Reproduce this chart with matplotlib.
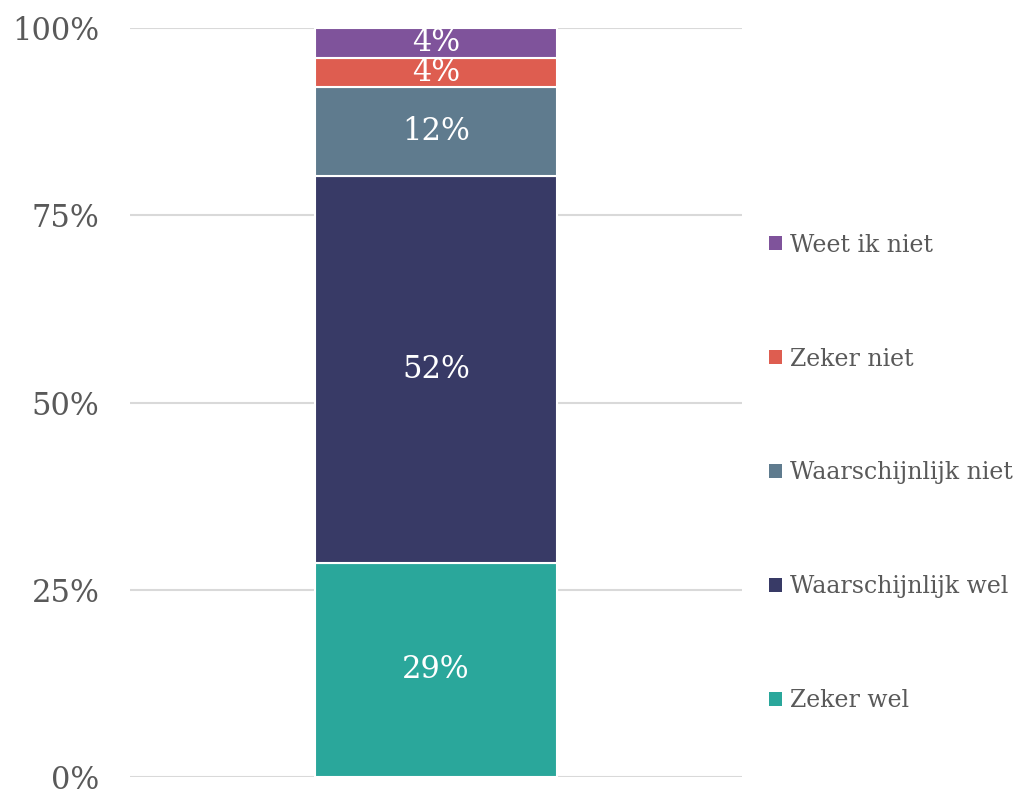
import matplotlib
matplotlib.use("Agg")
import matplotlib.pyplot as plt
from matplotlib.patches import Patch

categories = ["Zeker wel", "Waarschijnlijk wel", "Waarschijnlijk niet", "Zeker niet", "Weet ik niet"]
values = [28.6, 51.6, 11.9, 3.9, 4.0]
colors = ["#2aa79b", "#383a66", "#5f7b8e", "#de5d50", "#7f539b"]
yticks = [0, 25, 50, 75, 100]
ytick_labels = ["0%", "25%", "50%", "75%", "100%"]

plt.rcParams['font.family'] = ['DejaVu Serif']
text_color = "#595959"

fig = plt.figure(figsize=(10.14, 7.90), dpi=100)
ax = fig.add_axes([130/1014, 13/790, 612/1014, 749/790])

bottom = 0
for cat, v, c in zip(categories, values, colors):
    ax.bar(0, v, width=0.395, bottom=bottom, color=c, edgecolor="white", linewidth=1.5, label=cat, zorder=3)
    ax.text(0, bottom + v/2, f"{v:.0f}%", ha="center", va="center", color="white", fontsize=22, zorder=4)
    bottom += v

ax.set_xlim(-0.5, 0.5)
ax.set_ylim(0, 100)
ax.set_yticks(yticks)
ax.set_yticklabels(ytick_labels)
ax.set_xticks([])
ax.tick_params(axis="y", length=0, pad=22, labelsize=22, labelcolor=text_color)
ax.yaxis.grid(True, color="#d9d9d9", linewidth=1.5, zorder=0)
for s in ax.spines.values():
    s.set_visible(False)

handles = [Patch(facecolor=c, edgecolor="none") for c in colors][::-1]
labels = categories[::-1]
leg = fig.legend(handles, labels, loc="center left", bbox_to_anchor=(748/1014, 1-473/790),
                 frameon=False, fontsize=17, labelcolor=text_color,
                 handlelength=0.55, handleheight=0.55, handletextpad=0.35, labelspacing=3.85)

fig.savefig("out.png", dpi=100)
